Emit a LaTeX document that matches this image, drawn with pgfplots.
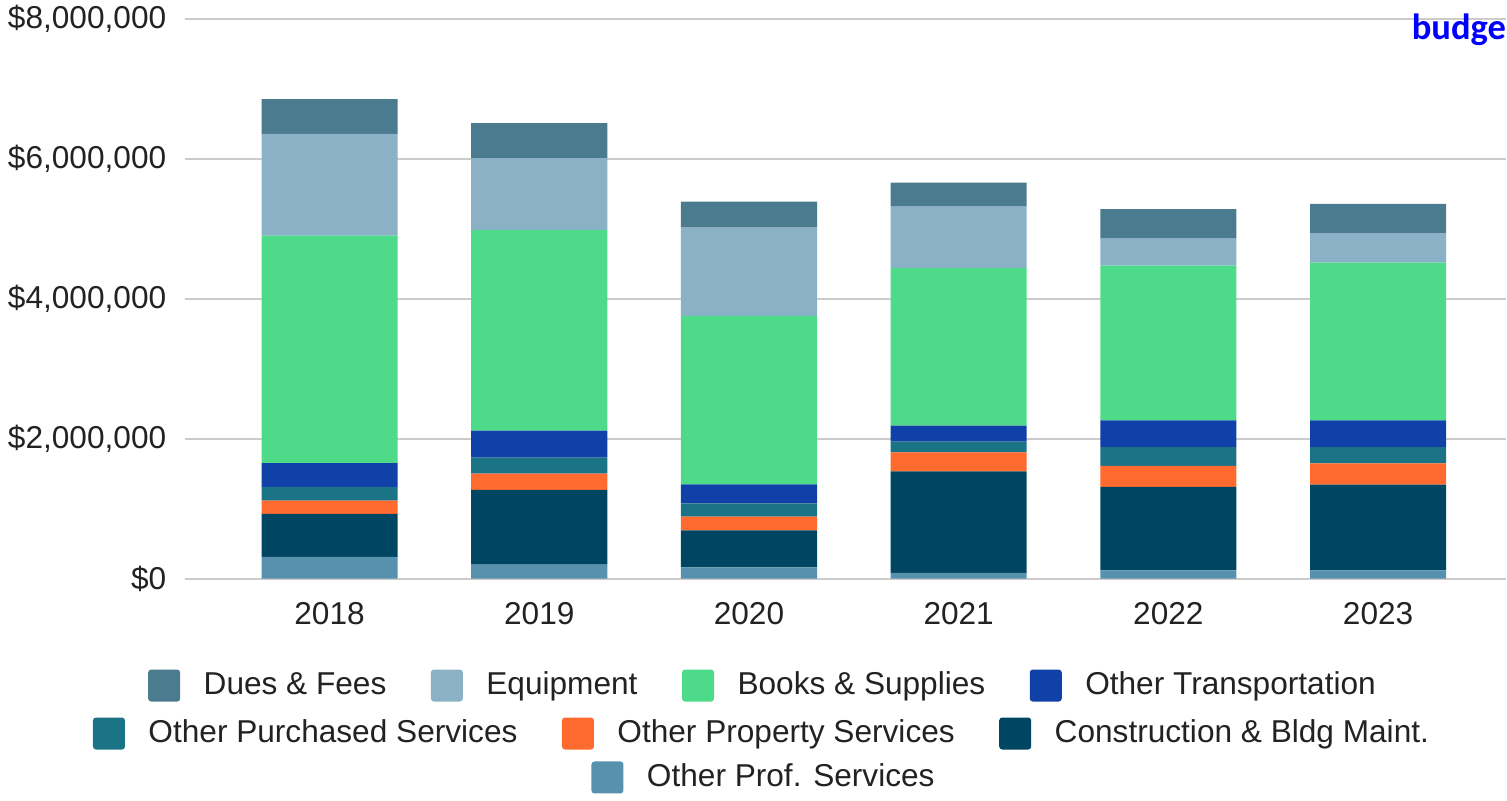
\documentclass[border=0pt]{standalone}
\usepackage{fontspec}
\setmainfont{Liberation Sans}
\newfontfamily\budgetfont{Carlito}
\usepackage{pgfplots}
\pgfplotsset{compat=1.18}

\definecolor{duescol}{RGB}{74,123,143}
\definecolor{equipcol}{RGB}{138,177,198}
\definecolor{bookscol}{RGB}{77,219,137}
\definecolor{transcol}{RGB}{16,65,168}
\definecolor{purchcol}{RGB}{27,116,133}
\definecolor{propcol}{RGB}{255,107,46}
\definecolor{constcol}{RGB}{0,70,98}
\definecolor{profcol}{RGB}{88,145,174}
\definecolor{gridgray}{RGB}{204,204,204}
\definecolor{axisdark}{RGB}{51,51,51}
\definecolor{textcol}{RGB}{34,34,34}

% one row of the legend, drawn by an empty hidden axis
\pgfplotsset{
  legrow/.style={
    hide axis, scale only axis, width=1mm, height=1mm,
    xmin=0, xmax=1, ymin=0, ymax=1, anchor=center,
    legend columns=-1,
    legend style={at={(0.5,0.5)}, anchor=center, draw=none, fill=none,
      inner sep=0pt,
      nodes={inner sep=2pt, text height=0.72em, text depth=0.2em, text=textcol},
      /tikz/every odd column/.append style={column sep=1.65mm},
      /tikz/every even column/.append style={column sep=3.75mm}},
    legend image code/.code={\fill[##1, rounded corners=0.3mm] (0mm,-1.6mm) rectangle (3.2mm,1.6mm);},
  },
}

\begin{document}
\begin{tikzpicture}[font=\fontsize{9}{11}\selectfont]
\path (0,0) rectangle (150.7mm,79.4mm);

\begin{axis}[
    at={(18.5mm,21.5mm)}, anchor=south west,
    scale only axis, width=132.2mm, height=56mm,
    ybar stacked, bar width=0.649,
    xmin=-0.69, xmax=5.61,
    ymin=0, ymax=8000000,
    xtick={0,1,2,3,4,5},
    xticklabels={2018,2019,2020,2021,2022,2023},
    ytick={0,2000000,4000000,6000000,8000000},
    yticklabels={{\$0},{\$2,000,000},{\$4,000,000},{\$6,000,000},{\$8,000,000}},
    scaled y ticks=false,
    axis line style={draw=none},
    major tick length=0,
    ymajorgrids=true,
    major grid style={draw=gridgray, line width=0.2mm},
    extra y ticks={0}, extra y tick labels={},
    extra y tick style={grid style={draw=axisdark, line width=0.25mm}},
    xticklabel style={inner sep=0pt, yshift=-2.3mm, text=textcol},
    yticklabel style={inner sep=0pt, xshift=-1.8mm, text=textcol},
  ]
% bottom to top
\addplot[fill=profcol, draw=none] coordinates
  {(0,310000) (1,200000) (2,162000) (3,81000) (4,119000) (5,119000)};
\addplot[fill=constcol, draw=none] coordinates
  {(0,614000) (1,1067000) (2,528000) (3,1452000) (4,1191000) (5,1224000)};
\addplot[fill=propcol, draw=none] coordinates
  {(0,190000) (1,233000) (2,196000) (3,272000) (4,300000) (5,305000)};
\addplot[fill=purchcol, draw=none] coordinates
  {(0,196000) (1,229000) (2,190000) (3,152000) (4,271000) (5,233000)};
\addplot[fill=transcol, draw=none] coordinates
  {(0,342000) (1,385000) (2,272000) (3,229000) (4,381000) (5,381000)};
\addplot[fill=bookscol, draw=none] coordinates
  {(0,3252000) (1,2867000) (2,2409000) (3,2252000) (4,2214000) (5,2257000)};
\addplot[fill=equipcol, draw=none] coordinates
  {(0,1453000) (1,1029000) (2,1262000) (3,881000) (4,386000) (5,419000)};
\addplot[fill=duescol, draw=none] coordinates
  {(0,496000) (1,500000) (2,371000) (3,343000) (4,419000) (5,419000)};
\end{axis}

\begin{axis}[legrow, at={(76.6mm,10.8mm)}]
\addlegendimage{fill=duescol, draw=none}\addlegendentry{Dues \& Fees}
\addlegendimage{fill=equipcol, draw=none}\addlegendentry{Equipment}
\addlegendimage{fill=bookscol, draw=none}\addlegendentry{Books \& Supplies}
\addlegendimage{fill=transcol, draw=none}\addlegendentry{Other Transportation}
\end{axis}
\begin{axis}[legrow, at={(76.5mm,6.0mm)}]
\addlegendimage{fill=purchcol, draw=none}\addlegendentry{Other Purchased Services}
\addlegendimage{fill=propcol, draw=none}\addlegendentry{Other Property Services}
\addlegendimage{fill=constcol, draw=none}\addlegendentry{Construction \& Bldg Maint.}
\end{axis}
\begin{axis}[legrow, at={(76.7mm,1.6mm)}]
\addlegendimage{fill=profcol, draw=none}\addlegendentry{Other Prof. Services}
\end{axis}

\node[anchor=base west, inner sep=0pt, text=blue, font=\fontsize{10.4}{12}\selectfont\budgetfont\bfseries]
  at (141.2mm,75.4mm) {budge};
\end{tikzpicture}
\end{document}
